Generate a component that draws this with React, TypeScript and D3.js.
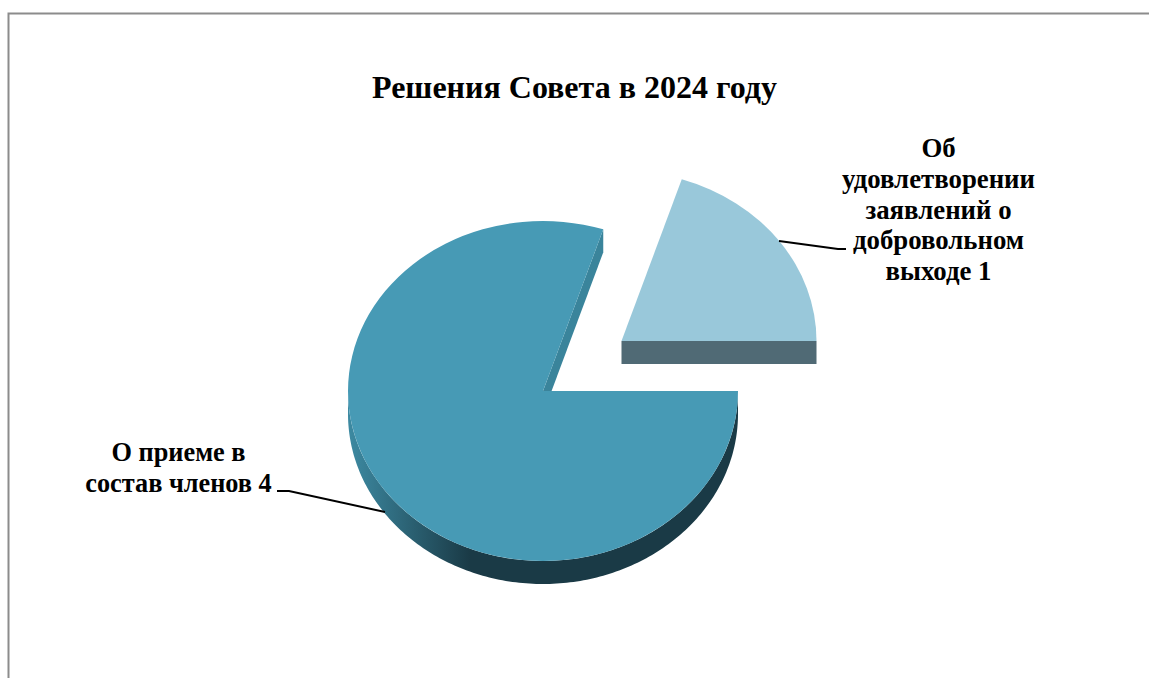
import React from 'react';
import * as d3 from 'd3';

const categories = ['Об удовлетворении заявлений о добровольном выходе', 'О приеме в состав членов'];
const seriesValues = [1, 4];
const titleText = 'Решения Совета в 2024 году';
const labelLines = [
  ['Об', 'удовлетворении', 'заявлений о', 'добровольном', 'выходе 1'],
  ['О приеме в', 'состав членов 4'],
];

const width = 1149;
const height = 678;

// pie geometry, squashed to an ellipse
const cx = 543;
const cy = 391;
const rx = 195;
const ry = 170;
const depth = 23;
const explodeX = 78.5;
const explodeY = -50;
const firstAngle = (18 * Math.PI) / 180;

const pie = d3
  .pie<number>()
  .sort(null)
  .startAngle(firstAngle)
  .endAngle(firstAngle + 2 * Math.PI);
const slices = pie(seriesValues);
const arc = d3.arc<d3.PieArcDatum<number>>().innerRadius(0).outerRadius(rx);

const ex = (a: number) => rx * Math.sin(a);
const ey = (a: number) => -ry * Math.cos(a);

// visible outer wall of the big slice: right side round the bottom to the left side
const wallAngles = d3.range(Math.PI / 2, (3 * Math.PI) / 2 + 0.001, Math.PI / 180);
const wallPath = d3
  .area<number>()
  .x((a) => cx + ex(a))
  .y0((a) => cy + ey(a))
  .y1((a) => cy + ey(a) + depth)(wallAngles) as string;

// inner cut wall of the big slice
const cutAngle = slices[1].endAngle;
const cutWall = d3.line()([
  [cx, cy],
  [cx + ex(cutAngle), cy + ey(cutAngle)],
  [cx + ex(cutAngle), cy + ey(cutAngle) + depth],
  [cx, cy + depth],
]) as string;

// front wall of the pulled out slice
const frontWall = d3.line()([
  [cx + explodeX, cy + explodeY],
  [cx + explodeX + rx, cy + explodeY],
  [cx + explodeX + rx, cy + explodeY + depth],
  [cx + explodeX, cy + explodeY + depth],
]) as string;

const leaderTop = d3.line()([
  [779, 241],
  [838, 249],
  [846, 249],
]) as string;
const leaderBottom = d3.line()([
  [277, 491],
  [289, 491],
  [385, 512],
]) as string;

const font = '"Liberation Serif", "Times New Roman", serif';

export default function App() {
  return (
    <svg
      width={width}
      height={height}
      style={{ position: 'absolute', left: 0, top: 0, background: '#fff' }}
    >
      <defs>
        <linearGradient id="wallGrad" gradientUnits="userSpaceOnUse" x1={348} x2={470} y1={0} y2={0}>
          <stop offset="0" stopColor="#3d8aa2" />
          <stop offset="1" stopColor="#1a3a46" />
        </linearGradient>
      </defs>

      <path d={`M8.5,${height} V13.5 H${width}`} fill="none" stroke="#8c8c8c" strokeWidth={2} />

      <text
        x={574.5}
        y={98}
        textAnchor="middle"
        fontFamily={font}
        fontWeight="bold"
        fontSize={32}
        fill="#000"
      >
        {titleText}
      </text>

      {/* big slice */}
      <path d={wallPath} fill="url(#wallGrad)" />
      <path d={cutWall} fill="#3a849b" />
      <g transform={`translate(${cx},${cy}) scale(1,${ry / rx})`}>
        <path d={arc(slices[1]) as string} fill="#479ab5">
          <title>{categories[1]}</title>
        </path>
      </g>

      {/* pulled out slice */}
      <path d={frontWall} fill="#506a75" />
      <g transform={`translate(${cx + explodeX},${cy + explodeY}) scale(1,${ry / rx})`}>
        <path d={arc(slices[0]) as string} fill="#99c8da">
          <title>{categories[0]}</title>
        </path>
      </g>

      <path d={leaderTop} fill="none" stroke="#000" strokeWidth={2} />
      <path d={leaderBottom} fill="none" stroke="#000" strokeWidth={2} />

      <g fontFamily={font} fontWeight="bold" fill="#000" textAnchor="middle">
        {labelLines[0].map((line, i) => (
          <text key={line} x={938.5} y={157 + i * 30.75} fontSize={26.8}>
            {line}
          </text>
        ))}
        {labelLines[1].map((line, i) => (
          <text key={line} x={178.5} y={461 + i * 30.75} fontSize={26.3}>
            {line}
          </text>
        ))}
      </g>
    </svg>
  );
}
